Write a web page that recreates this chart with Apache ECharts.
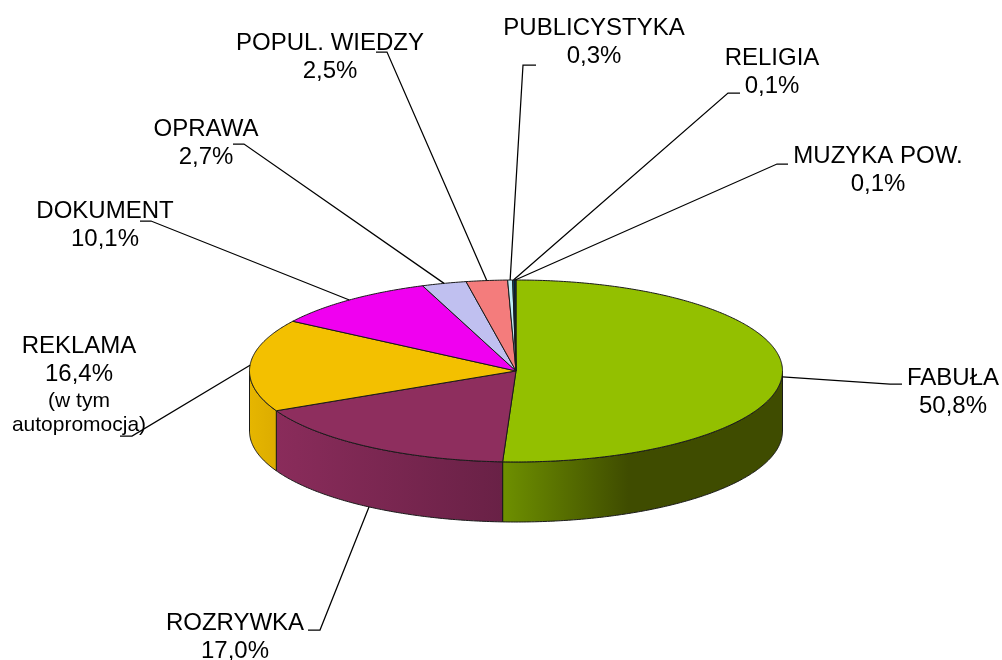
<!DOCTYPE html>
<html>
<head>
<meta charset="utf-8">
<style>html,body{margin:0;padding:0;background:#fff}#c{width:1002px;height:660px}</style>
<script src="https://cdn.jsdelivr.net/npm/echarts@6/dist/echarts.min.js"></script>
</head>
<body>
<div id="c"></div>
<script>
// Data
var categories = ['FABUŁA','ROZRYWKA','REKLAMA','DOKUMENT','OPRAWA','POPUL. WIEDZY','PUBLICYSTYKA','RELIGIA','MUZYKA POW.'];
var shares = [50.8,17.0,16.4,10.1,2.7,2.5,0.3,0.1,0.1];
var labelNotes = {2:['(w tym','autopromocja)']};
// Styling
var topColors = ['#93C000','#8E2E5E','#F3C000','#F000F0','#C0C0F0','#F47C7C','#C0F0F8','#006080','#003060'];
var sideStops = {
  0:[[0,'#6E9000'],[0.45,'#3F4C00'],[1,'#3F4C00']],
  1:[[0,'#8A2C5B'],[1,'#692146']],
  2:[[0,'#E6B600'],[1,'#DCAC00']]
};
// Layout: pie is a unit circle on hidden axes; thickness in y-axis units
var depth = 0.66;
var leaderDrop = [0.04,0.66,0,0,0,0,0,0,0];
var elbows = [[890,384],[320,630],[132,436],[151,221],[244,144],[387,52],[523,65],[728,93],[777,164]];
var stubEnds = [[902,384],[308,630],[120,436],[140,221],[233,144],[376,52],[536,65],[740,93],[788,164]];
var labelAt = [[953,378],[235,623],[79,346],[105,211],[206,129],[330,43],[594,28],[772,58],[878,156]];
var lineGap = 28, noteGaps = [27,51];

var total = shares.reduce(function(a,b){return a+b;},0);
var starts = [], acc = 0;
shares.forEach(function(v){ starts.push(acc/total*2*Math.PI); acc += v; });
function endOf(i){ return starts[i] + shares[i]/total*2*Math.PI; }
function rim(a,drop){ return [Math.sin(a), Math.cos(a) - (drop||0)]; }
function arcPts(a0,a1,drop){
  var n = Math.max(2,Math.ceil((a1-a0)/0.01)), out = [];
  for (var k=0;k<=n;k++) out.push(rim(a0+(a1-a0)*k/n,drop));
  return out;
}
function fmt(v){ return v.toFixed(1).replace('.',',')+'%'; }

function renderTop(params,api){
  var i = params.dataIndex;
  var pts = [[0,0]].concat(arcPts(starts[i],endOf(i))).map(function(p){return api.coord(p);});
  return {type:'polygon',shape:{points:pts},style:{fill:topColors[i],stroke:'#1a1a1a',lineWidth:1,lineJoin:'round'}};
}
function renderSide(params,api){
  var i = params.dataIndex;
  var a0 = Math.max(starts[i],Math.PI/2), a1 = Math.min(endOf(i),3*Math.PI/2);
  if (a1 <= a0) return {type:'group',children:[]};
  var up = arcPts(a0,a1), down = arcPts(a0,a1,depth).reverse();
  var pts = up.concat(down).map(function(p){return api.coord(p);});
  return {type:'polygon',shape:{points:pts},style:{
    fill:new echarts.graphic.LinearGradient(0,0,1,0,(sideStops[i]||[[0,topColors[i]],[1,topColors[i]]]).map(function(s){return {offset:s[0],color:s[1]};})),
    stroke:'#1a1a1a',lineWidth:1,lineJoin:'round'}};
}
function renderLabel(params,api){
  var i = params.dataIndex, mid = (starts[i]+endOf(i))/2;
  var kids = [{type:'polyline',shape:{points:[api.coord(rim(mid,leaderDrop[i])),elbows[i],stubEnds[i]]},
    style:{fill:null,stroke:'#000',lineWidth:1.25}}];
  function txt(s,x,y,size){
    kids.push({type:'text',style:{text:s,x:x,y:y,align:'center',verticalAlign:'middle',fill:'#000',
      font:size+'px "Liberation Sans",Arial,sans-serif'}});
  }
  var at = labelAt[i];
  txt(categories[i],at[0],at[1],24);
  txt(fmt(shares[i]),at[0],at[1]+lineGap,24);
  (labelNotes[i]||[]).forEach(function(n,k){ txt(n,at[0],at[1]+lineGap+noteGaps[k],21); });
  return {type:'group',children:kids};
}
var rows = shares.map(function(v,i){return {name:categories[i],value:[i,v]};});
var chart = echarts.init(document.getElementById('c'),null,{renderer:'canvas'});
chart.setOption({
  animation:false,
  backgroundColor:'#fff',
  grid:{left:249.5,top:280,width:533,height:242},
  xAxis:{type:'value',min:-1,max:1,show:false},
  yAxis:{type:'value',min:-1-depth,max:1,show:false},
  tooltip:{show:false},
  series:[
    {type:'custom',name:'bok',silent:true,z:1,data:rows,renderItem:renderSide,encode:{x:-1,y:-1}},
    {type:'custom',name:'góra',silent:true,z:2,data:rows,renderItem:renderTop,encode:{x:-1,y:-1}},
    {type:'custom',name:'etykiety',silent:true,z:3,data:rows,renderItem:renderLabel,encode:{x:-1,y:-1}}
  ]
});
</script>
</body>
</html>
